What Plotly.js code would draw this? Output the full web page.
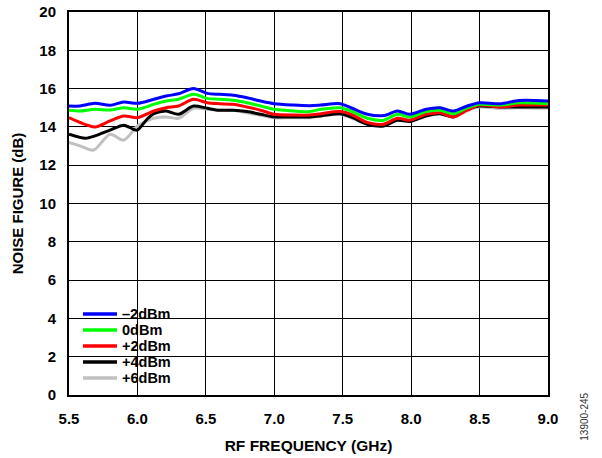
<!DOCTYPE html>
<html>
<head>
<meta charset="utf-8">
<script src="https://cdn.plot.ly/plotly-3.0.1.min.js"></script>
<style>html,body{margin:0;padding:0;background:#fff;}#chart{width:602px;height:458px;}</style>
</head>
<body>
<div id="chart"></div>
<script>
const seriesNames = ["\u20132dBm", "0dBm", "+2dBm", "+4dBm", "+6dBm"];
const seriesColors = ["#0000ff", "#00ff00", "#ff0000", "#000000", "#c0c0c0"];

const freqM2 = [5.5,5.58,5.69,5.80,5.90,6.0,6.12,6.21,6.30,6.41,6.51,6.60,6.70,6.80,6.90,7.0,7.14,7.26,7.34,7.48,7.56,7.68,7.80,7.90,7.99,8.11,8.21,8.31,8.41,8.50,8.65,8.79,9.0];
const nfM2 = [15.09,15.09,15.23,15.13,15.30,15.23,15.44,15.61,15.73,16.01,15.75,15.70,15.65,15.52,15.35,15.21,15.14,15.11,15.14,15.21,15.0,14.66,14.59,14.83,14.66,14.92,15.0,14.83,15.09,15.26,15.21,15.38,15.35];

const freq0 = [5.5,5.58,5.69,5.80,5.90,6.0,6.12,6.21,6.30,6.41,6.51,6.60,6.70,6.80,6.90,7.0,7.14,7.26,7.34,7.48,7.56,7.68,7.80,7.90,7.99,8.11,8.21,8.31,8.41,8.50,8.65,8.79,9.0];
const nf0 = [14.87,14.83,14.92,14.88,15.0,14.92,15.18,15.35,15.44,15.70,15.49,15.44,15.39,15.26,15.09,14.92,14.83,14.80,14.92,15.0,14.83,14.45,14.35,14.66,14.52,14.80,14.87,14.69,15.0,15.18,15.14,15.26,15.21];

const freqP2 = [5.5,5.58,5.69,5.80,5.90,6.0,6.12,6.21,6.30,6.41,6.51,6.60,6.70,6.80,6.90,7.0,7.14,7.26,7.34,7.48,7.56,7.68,7.80,7.90,7.99,8.11,8.21,8.31,8.41,8.50,8.65,8.79,9.0];
const nfP2 = [14.48,14.23,14.0,14.31,14.57,14.48,14.83,15.0,15.09,15.44,15.26,15.21,15.18,15.04,14.87,14.66,14.62,14.62,14.69,14.80,14.66,14.23,14.14,14.45,14.35,14.66,14.74,14.52,14.87,15.14,15.04,15.14,15.14];

const freqP4 = [5.5,5.62,5.69,5.80,5.90,5.97,6.0,6.07,6.12,6.21,6.30,6.41,6.51,6.60,6.70,6.80,6.90,7.0,7.14,7.26,7.34,7.48,7.56,7.68,7.80,7.90,7.99,8.11,8.21,8.31,8.41,8.50,8.65,8.79,9.0];
const nfP4 = [13.62,13.41,13.53,13.83,14.09,13.88,13.83,14.40,14.69,14.83,14.66,15.09,14.97,14.87,14.87,14.80,14.66,14.52,14.52,14.52,14.57,14.69,14.52,14.14,14.05,14.35,14.28,14.57,14.69,14.52,14.92,15.09,15.04,15.04,15.04];

const freqP6 = [5.5,5.58,5.68,5.80,5.90,6.0,6.07,6.12,6.21,6.30,6.41,6.51,6.60,6.70,6.80,6.90,7.0,7.14,7.26,7.34,7.48,7.56,7.68,7.80,7.90,7.99,8.11,8.21,8.31,8.41,8.50,8.65,8.79,9.0];
const nfP6 = [13.19,13.01,12.79,13.62,13.31,14.05,14.31,14.45,14.52,14.45,14.97,14.92,14.87,14.87,14.74,14.61,14.48,14.48,14.48,14.57,14.66,14.48,14.17,14.14,14.45,14.35,14.66,14.74,14.57,14.87,15.04,14.97,15.0,14.97];

const xTickVals = [5.5,6.0,6.5,7.0,7.5,8.0,8.5,9.0];
const yTickVals = [0,2,4,6,8,10,12,14,16,18,20];

const xs = [freqM2, freq0, freqP2, freqP4, freqP6];
const ys = [nfM2, nf0, nfP2, nfP4, nfP6];
const order = [4,3,2,1,0];
const plotTraces = order.map(i => ({
  x: xs[i], y: ys[i], name: seriesNames[i], type: 'scatter', mode: 'lines',
  line: {color: seriesColors[i], width: 3, shape: 'spline', smoothing: 0.8},
  showlegend: false
}));

const fam = 'Arial, "Liberation Sans", sans-serif';
const boldFont = (s) => ({family: fam, size: s, color: '#000', weight: 'bold'});

// custom legend (drawn in paper coordinates)
const shapes = [{
  type: 'rect', xref: 'paper', yref: 'paper', x0: 0.004, x1: 0.240, y0: 0.006, y1: 0.240,
  fillcolor: '#fff', line: {width: 0}, layer: 'between'
}];
const annotations = [];
const legTop = 0.2115, legStep = 16 / 383;
seriesNames.forEach((name, i) => {
  const yy = legTop - i * legStep;
  shapes.push({type: 'line', xref: 'paper', yref: 'paper', x0: 0.0292, x1: 0.1002, y0: yy, y1: yy,
    line: {color: seriesColors[i], width: 3.5}, layer: 'above'});
  annotations.push({text: name, xref: 'paper', yref: 'paper', x: 0.1065, y: yy, xanchor: 'left', yanchor: 'middle',
    showarrow: false, font: boldFont(14.5)});
});
annotations.push({
  text: '13900-245', xref: 'paper', yref: 'paper', x: 1.077, y: -0.057, xanchor: 'center', yanchor: 'middle',
  textangle: -90, showarrow: false, font: {family: fam, size: 10, color: '#333'}
});

const layout = {
  width: 602, height: 458,
  margin: {l: 69, r: 54, t: 12, b: 63},
  paper_bgcolor: '#fff', plot_bgcolor: '#fff',
  font: {family: fam, size: 14, color: '#000'},
  showlegend: false,
  xaxis: {
    range: [5.5, 9.0], tickvals: xTickVals, ticktext: xTickVals.map(v => v.toFixed(1)),
    showgrid: true, gridcolor: '#000', gridwidth: 1,
    showline: true, linecolor: '#000', linewidth: 2, mirror: true,
    ticks: '', zeroline: false, ticklabelstandoff: 9,
    tickfont: boldFont(15),
    title: {text: 'RF FREQUENCY (GHz)', font: boldFont(15.5), standoff: 14}
  },
  yaxis: {
    range: [0, 20], tickvals: yTickVals,
    showgrid: true, gridcolor: '#000', gridwidth: 1,
    showline: true, linecolor: '#000', linewidth: 2, mirror: true,
    ticks: '', zeroline: false, ticklabelstandoff: 8,
    tickfont: boldFont(15),
    title: {text: 'NOISE FIGURE (dB)', font: boldFont(15), standoff: 12}
  },
  shapes: shapes,
  annotations: annotations
};
Plotly.newPlot('chart', plotTraces, layout, {displayModeBar: false, staticPlot: true});
</script>
</body>
</html>
